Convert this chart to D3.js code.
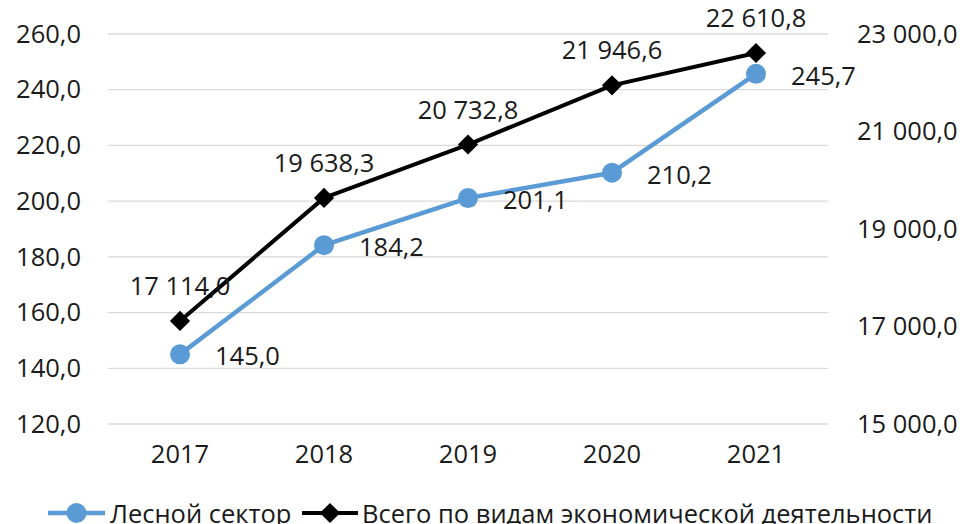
<!DOCTYPE html>
<html>
<head>
<meta charset="utf-8">
<script src="https://cdn.jsdelivr.net/npm/d3@7"></script>
<style>
  html, body { margin: 0; padding: 0; background: #fff; }
  svg text { font-family: "Open Sans", sans-serif; fill: #1a1a1a; }
</style>
</head>
<body>
<svg id="chart" width="968" height="524"></svg>
<script>
// Years on the category axis
const years = ["2017", "2018", "2019", "2020", "2021"];
// Forest sector (left axis)
const forestValues = [145.0, 184.2, 201.1, 210.2, 245.7];
// All kinds of economic activity (right axis)
const totalValues = [17114.0, 19638.3, 20732.8, 21946.6, 22610.8];
// Axis ticks
const leftTicks = [120, 140, 160, 180, 200, 220, 240, 260];
const rightTicks = [15000, 17000, 19000, 21000, 23000];
const seriesNames = ["Лесной сектор", "Всего по видам экономической деятельности"];

const blue = "#5B9BD5";
const fontSize = 25.5;

const svg = d3.select("#chart");
const plot = { left: 108, right: 828, top: 34, bottom: 424 };

const x = d3.scaleBand().domain(years).range([plot.left, plot.right]);
const yL = d3.scaleLinear().domain([120, 260]).range([plot.bottom, plot.top]);
const yR = d3.scaleLinear().domain([15000, 23000]).range([plot.bottom, plot.top]);
const cx = d => x(d) + x.bandwidth() / 2;

const fmt = v => {
  const s = d3.format(",.1f")(v);
  return s.replace(/,/g, " ").replace(".", ",");
};

// Gridlines
svg.append("g").selectAll("line").data(leftTicks).join("line")
  .attr("x1", plot.left).attr("x2", plot.right)
  .attr("y1", d => yL(d)).attr("y2", d => yL(d))
  .attr("stroke", "#d9d9d9").attr("stroke-width", 1.3);

// Left axis
const leftAxis = d3.axisLeft(yL).tickValues(leftTicks).tickSize(0).tickPadding(0)
  .tickFormat(d => fmt(d));
svg.append("g").attr("transform", "translate(81,0)").call(leftAxis)
  .call(g => g.select(".domain").remove())
  .selectAll("text").attr("font-size", fontSize).attr("font-family", "Open Sans").attr("fill", "#1a1a1a");

// Right axis
const rightAxis = d3.axisRight(yR).tickValues(rightTicks).tickSize(0).tickPadding(0)
  .tickFormat(d => fmt(d));
svg.append("g").attr("transform", "translate(857,0)").call(rightAxis)
  .call(g => g.select(".domain").remove())
  .selectAll("text").attr("font-size", fontSize).attr("font-family", "Open Sans").attr("fill", "#1a1a1a");

// Category axis
const bottomAxis = d3.axisBottom(x).tickSize(0).tickPadding(0);
svg.append("g").attr("transform", "translate(0,445)").call(bottomAxis)
  .call(g => g.select(".domain").remove())
  .selectAll("text").attr("font-size", fontSize).attr("font-family", "Open Sans").attr("fill", "#1a1a1a");

// Total line (right axis)
const totalLine = d3.line().x((d, i) => cx(years[i])).y(d => yR(d));
svg.append("path").datum(totalValues)
  .attr("d", totalLine).attr("fill", "none")
  .attr("stroke", "#000").attr("stroke-width", 4).attr("stroke-linejoin", "round");

// Forest line (left axis)
const forestLine = d3.line().x((d, i) => cx(years[i])).y(d => yL(d));
svg.append("path").datum(forestValues)
  .attr("d", forestLine).attr("fill", "none")
  .attr("stroke", blue).attr("stroke-width", 4.5).attr("stroke-linejoin", "round");

// Markers
const diamond = d3.symbol().type(d3.symbolDiamond2).size(260);
svg.append("g").selectAll("path").data(totalValues).join("path")
  .attr("d", diamond)
  .attr("transform", (d, i) => `translate(${cx(years[i])},${yR(d)})`)
  .attr("fill", "#000");

svg.append("g").selectAll("circle").data(forestValues).join("circle")
  .attr("cx", (d, i) => cx(years[i])).attr("cy", d => yL(d))
  .attr("r", 10).attr("fill", blue);

// Data labels
svg.append("g").selectAll("text").data(totalValues).join("text")
  .attr("x", (d, i) => cx(years[i])).attr("y", d => yR(d) - 36)
  .attr("text-anchor", "middle").attr("dominant-baseline", "central")
  .attr("font-size", fontSize)
  .text(d => fmt(d));

svg.append("g").selectAll("text").data(forestValues).join("text")
  .attr("x", (d, i) => cx(years[i]) + 35).attr("y", d => yL(d) + 1)
  .attr("text-anchor", "start").attr("dominant-baseline", "central")
  .attr("font-size", fontSize)
  .text(d => fmt(d));

// Legend
const legend = svg.append("g").attr("transform", "translate(0,513)");
const l1 = legend.append("g").attr("transform", "translate(48,0)");
l1.append("line").attr("x1", 0).attr("x2", 57).attr("stroke", blue).attr("stroke-width", 4.5);
l1.append("circle").attr("cx", 28.5).attr("r", 10).attr("fill", blue);
l1.append("text").attr("x", 62).attr("dominant-baseline", "central")
  .attr("font-size", fontSize).text(seriesNames[0]);

const l2 = legend.append("g").attr("transform", "translate(302,0)");
l2.append("line").attr("x1", 0).attr("x2", 56).attr("stroke", "#000").attr("stroke-width", 4);
l2.append("path").attr("d", diamond).attr("transform", "translate(28,0)").attr("fill", "#000");
l2.append("text").attr("x", 60).attr("dominant-baseline", "central")
  .attr("font-size", fontSize).text(seriesNames[1]);
</script>
</body>
</html>
